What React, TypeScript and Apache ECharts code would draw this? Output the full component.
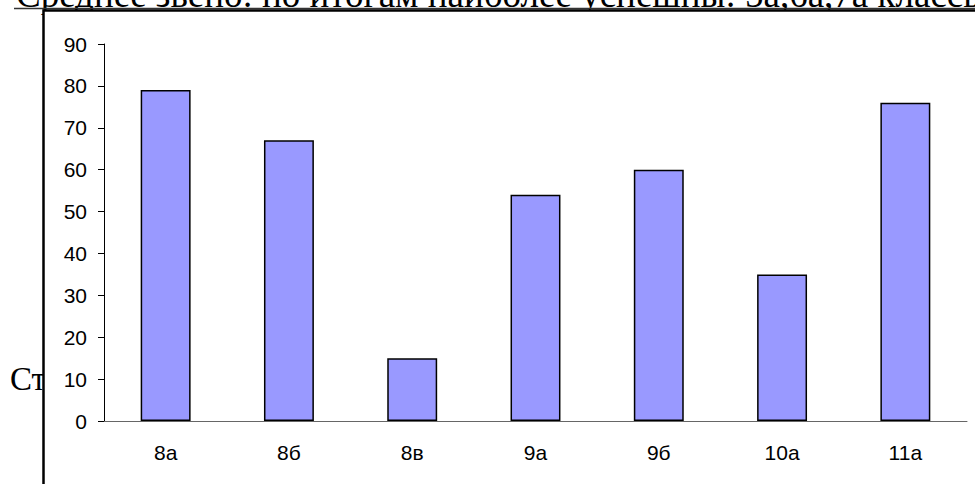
import React, { useEffect, useRef } from "react";
import * as echarts from "echarts";

const categories = ["8а", "8б", "8в", "9а", "9б", "10а", "11а"];
const values = [79, 67, 15, 54, 60, 35, 76];
const titleText = "Среднее звено: по итогам наиболее успешны: 5а,6а,7а классы";
const sideText = "Ст";

export default function App() {
  const ref = useRef<HTMLDivElement>(null);
  useEffect(() => {
    if (!ref.current) return;
    const chart = echarts.init(ref.current, null, { renderer: "svg" });
    chart.setOption({
      animation: false,
      backgroundColor: "#ffffff",
      grid: { left: 104, right: 8, top: 44, bottom: 63 },
      xAxis: {
        type: "category",
        data: categories,
        axisLine: { lineStyle: { color: "#666666", width: 1 } },
        axisTick: { length: 6, lineStyle: { color: "#555555" } },
        axisLabel: {
          color: "#000",
          fontFamily: "'Liberation Sans', Arial, sans-serif",
          fontSize: 21,
          margin: 21,
        },
      },
      yAxis: {
        type: "value",
        min: 0,
        max: 90,
        interval: 10,
        splitLine: { show: false },
        axisLine: { show: true, lineStyle: { color: "#000", width: 1 } },
        axisTick: { show: true, length: 6, lineStyle: { color: "#000" } },
        axisLabel: {
          color: "#000",
          fontFamily: "'Liberation Sans', Arial, sans-serif",
          fontSize: 21,
          margin: 17,
        },
      },
      series: [
        {
          type: "bar",
          data: values,
          barWidth: "40.5%",
          itemStyle: { color: "#9999FF", borderColor: "#000", borderWidth: 1.5 },
          z: 3,
        },
      ],
      graphic: [
        {
          type: "text",
          x: 16,
          y: -5.5,
          z: -5,
          silent: true,
          style: {
            text: titleText,
            font: "37px 'Liberation Serif', 'Times New Roman', serif",
            fill: "#000",
            verticalAlign: "middle",
            align: "left",
          },
        },
        {
          type: "line",
          z: -5,
          silent: true,
          shape: { x1: 14, y1: 8.5, x2: 975, y2: 8.5 },
          style: { stroke: "#333", lineWidth: 1.5 },
        },
        {
          type: "text",
          x: 10,
          y: 379,
          z: -5,
          silent: true,
          style: {
            text: sideText,
            font: "33px 'Liberation Serif', 'Times New Roman', serif",
            fill: "#000",
            verticalAlign: "middle",
            align: "left",
          },
        },
        {
          type: "rect",
          z: -4,
          silent: true,
          shape: { x: 43.5, y: 10.5, width: 1000, height: 500 },
          style: { fill: "#ffffff", stroke: "#000", lineWidth: 2.5 },
        },
      ],
    });
    return () => chart.dispose();
  }, []);
  return (
    <div
      ref={ref}
      style={{ position: "absolute", left: 0, top: 0, width: 975, height: 484 }}
    />
  );
}
